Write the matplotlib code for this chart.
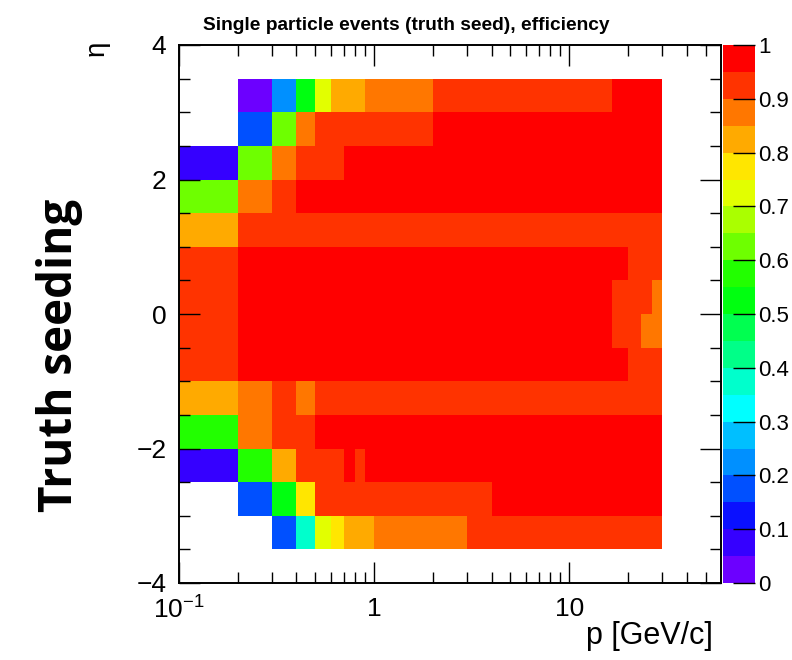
"""
Single particle efficiency map (truth seeding), eta vs p
"""

import numpy as np
import matplotlib
matplotlib.use("Agg")
import matplotlib.pyplot as plt
from matplotlib.colors import ListedColormap, BoundaryNorm
from matplotlib.ticker import FixedLocator, FixedFormatter, MultipleLocator

plt.rcParams['font.family'] = ['Liberation Sans', 'DejaVu Sans']

# bin edges
p_edges = [0.1, 0.2, 0.3, 0.4, 0.5, 0.6, 0.7, 0.8, 0.9, 1.0,
           2, 3, 4, 5, 6, 7, 8, 9, 10,
           13.33, 16.67, 20, 23.33, 26.67, 30]
eta_edges = [-3.5, -3.0, -2.5, -2.0, -1.5, -1.0, -0.5, 0.0,
             0.5, 1.0, 1.5, 2.0, 2.5, 3.0, 3.5]

nan = np.nan
# efficiency per eta bin (bottom to top), one value per p bin
eff_rows = [
    [nan, nan, 0.18, 0.38, 0.72, 0.78, 0.83, 0.83, 0.83, 0.88, 0.88, 0.93,
     0.93, 0.93, 0.93, 0.93, 0.93, 0.93, 0.93, 0.93, 0.93, 0.93, 0.93, 0.93],
    [nan, 0.18, 0.52, 0.78, 0.93, 0.93, 0.93, 0.93, 0.93, 0.93, 0.93, 0.93,
     0.98, 0.98, 0.98, 0.98, 0.98, 0.98, 0.98, 0.98, 0.98, 0.98, 0.98, 0.98],
    [0.08, 0.57, 0.83, 0.93, 0.93, 0.93, 0.98, 0.93, 0.98, 0.98, 0.98, 0.98,
     0.98, 0.98, 0.98, 0.98, 0.98, 0.98, 0.98, 0.98, 0.98, 0.98, 0.98, 0.98],
    [0.57, 0.88, 0.93, 0.93, 0.98, 0.98, 0.98, 0.98, 0.98, 0.98, 0.98, 0.98,
     0.98, 0.98, 0.98, 0.98, 0.98, 0.98, 0.98, 0.98, 0.98, 0.98, 0.98, 0.98],
    [0.83, 0.88, 0.93, 0.88, 0.93, 0.93, 0.93, 0.93, 0.93, 0.93, 0.93, 0.93,
     0.93, 0.93, 0.93, 0.93, 0.93, 0.93, 0.93, 0.93, 0.93, 0.93, 0.93, 0.93],
    [0.93, 0.98, 0.98, 0.98, 0.98, 0.98, 0.98, 0.98, 0.98, 0.98, 0.98, 0.98,
     0.98, 0.98, 0.98, 0.98, 0.98, 0.98, 0.98, 0.98, 0.98, 0.93, 0.93, 0.93],
    [0.93, 0.98, 0.98, 0.98, 0.98, 0.98, 0.98, 0.98, 0.98, 0.98, 0.98, 0.98,
     0.98, 0.98, 0.98, 0.98, 0.98, 0.98, 0.98, 0.98, 0.93, 0.93, 0.88, 0.88],
    [0.93, 0.98, 0.98, 0.98, 0.98, 0.98, 0.98, 0.98, 0.98, 0.98, 0.98, 0.98,
     0.98, 0.98, 0.98, 0.98, 0.98, 0.98, 0.98, 0.98, 0.93, 0.93, 0.93, 0.88],
    [0.93, 0.98, 0.98, 0.98, 0.98, 0.98, 0.98, 0.98, 0.98, 0.98, 0.98, 0.98,
     0.98, 0.98, 0.98, 0.98, 0.98, 0.98, 0.98, 0.98, 0.98, 0.93, 0.93, 0.93],
    [0.83, 0.93, 0.93, 0.93, 0.93, 0.93, 0.93, 0.93, 0.93, 0.93, 0.93, 0.93,
     0.93, 0.93, 0.93, 0.93, 0.93, 0.93, 0.93, 0.93, 0.93, 0.93, 0.93, 0.93],
    [0.62, 0.88, 0.93, 0.98, 0.98, 0.98, 0.98, 0.98, 0.98, 0.98, 0.98, 0.98,
     0.98, 0.98, 0.98, 0.98, 0.98, 0.98, 0.98, 0.98, 0.98, 0.98, 0.98, 0.98],
    [0.08, 0.62, 0.88, 0.93, 0.93, 0.93, 0.98, 0.98, 0.98, 0.98, 0.98, 0.98,
     0.98, 0.98, 0.98, 0.98, 0.98, 0.98, 0.98, 0.98, 0.98, 0.98, 0.98, 0.98],
    [nan, 0.18, 0.62, 0.88, 0.93, 0.93, 0.93, 0.93, 0.93, 0.93, 0.98, 0.98,
     0.98, 0.98, 0.98, 0.98, 0.98, 0.98, 0.98, 0.98, 0.98, 0.98, 0.98, 0.98],
    [nan, 0.03, 0.23, 0.52, 0.72, 0.83, 0.83, 0.83, 0.88, 0.88, 0.93, 0.93,
     0.93, 0.93, 0.93, 0.93, 0.93, 0.93, 0.93, 0.93, 0.98, 0.98, 0.98, 0.98],
]

# ROOT-like rainbow palette, 20 contours from 0 to 1
palette = ['#6C00FF', '#3500FF', '#0A10FF', '#0050FF', '#0090FF',
           '#00BFFF', '#00FFFF', '#00FFCC', '#00FF88', '#00FF50',
           '#00FF10', '#22FF00', '#6EFF00', '#AAFF00', '#E2FF00',
           '#FFE600', '#FFAA00', '#FF7700', '#FF3300', '#FF0000']
levels = np.linspace(0, 1, 21)
cb_ticks = [0, 0.1, 0.2, 0.3, 0.4, 0.5, 0.6, 0.7, 0.8, 0.9, 1.0]
p_major = [0.1, 1, 10]
p_major_labels = [r'$\mathregular{10^{-1}}$', '1', '10']
p_minor = [0.2, 0.3, 0.4, 0.5, 0.6, 0.7, 0.8, 0.9,
           2, 3, 4, 5, 6, 7, 8, 9, 20, 30, 40, 50]

fig = plt.figure(figsize=(7.92, 6.6), dpi=100)
ax = fig.add_axes([179 / 792, 77 / 660, 542 / 792, 538 / 660])
cax = fig.add_axes([723 / 792, 77 / 660, 32 / 792, 538 / 660])

cmap = ListedColormap(palette)
norm = BoundaryNorm(levels, cmap.N)
eff = np.ma.masked_invalid(np.array(eff_rows))
mesh = ax.pcolormesh(p_edges, eta_edges, eff, cmap=cmap, norm=norm)

ax.set_xscale('log')
ax.set_xlim(0.1, 60)
ax.set_ylim(-4, 4)

ax.xaxis.set_major_locator(FixedLocator(p_major))
ax.xaxis.set_major_formatter(FixedFormatter(p_major_labels))
ax.xaxis.set_minor_locator(FixedLocator(p_minor))
ax.xaxis.set_minor_formatter(FixedFormatter([''] * len(p_minor)))
ax.yaxis.set_major_locator(MultipleLocator(2))
ax.yaxis.set_minor_locator(MultipleLocator(0.5))

ax.tick_params(which='both', direction='in', top=True, right=True, width=1)
ax.tick_params(which='major', length=15, labelsize=19)
ax.tick_params(which='minor', length=8)
ax.tick_params(axis='x', which='major', pad=10)
ax.tick_params(axis='y', which='major', pad=9)
for s in ax.spines.values():
    s.set_linewidth(1.4)

cb = fig.colorbar(mesh, cax=cax, ticks=cb_ticks)
cb.outline.set_visible(False)
cb.ax.yaxis.set_major_formatter(FixedFormatter(['%g' % t for t in cb_ticks]))
cb.ax.tick_params(direction='in', length=16, width=1, labelsize=16, pad=2)
cb.ax.minorticks_off()

fig.text(406, 660 - 25, 'Single particle events (truth seed), efficiency',
         transform=None, ha='center', va='center', fontsize=13.8, fontweight='bold')
fig.text(713, 660 - 636, 'p [GeV/c]', transform=None, ha='right', va='center',
         fontsize=22)
fig.text(97, 660 - 48, 'η', transform=None, ha='center', va='center',
         fontsize=20, rotation=90)
fig.text(60, 660 - 355, 'Truth seeding', transform=None, ha='center', va='center',
         fontsize=33, fontweight='bold', rotation=90, family=['Open Sans', 'DejaVu Sans'])

fig.savefig('out.png', dpi=100)
